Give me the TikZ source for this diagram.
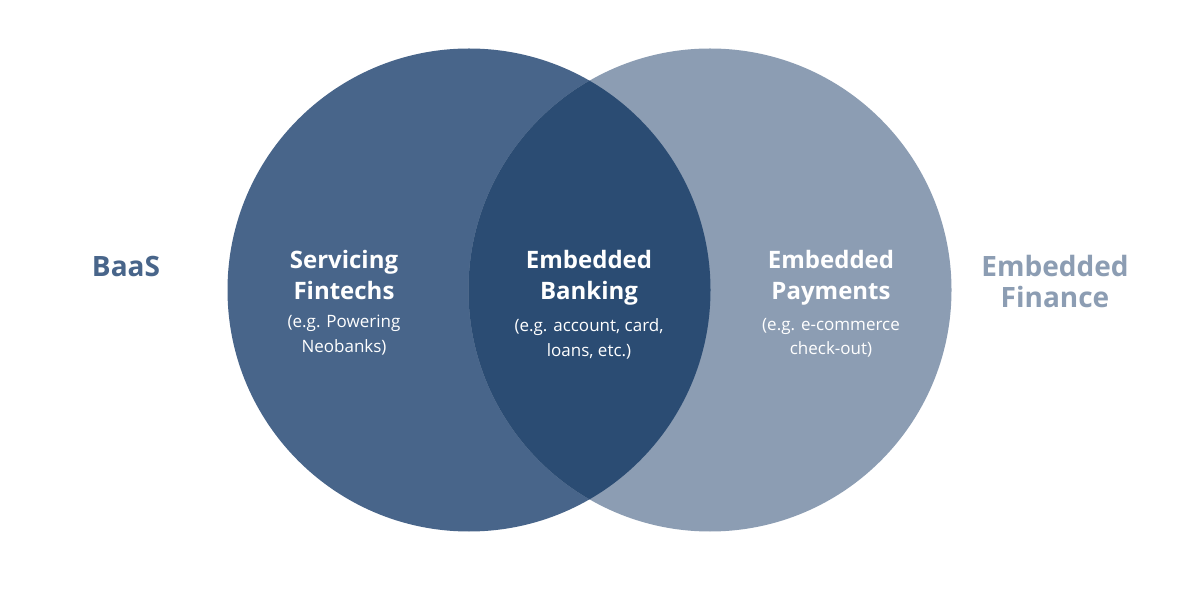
\documentclass[tikz,border=0pt]{standalone}
\usepackage{fontspec}
\setmainfont{Open Sans}
\definecolor{leftc}{HTML}{48658A}
\definecolor{rightc}{HTML}{8C9DB3}
\definecolor{midc}{HTML}{2B4C73}
\tikzset{
  venn/.style={circle, minimum size=483pt, inner sep=0pt, draw=none},
  head/.style={text=white, align=center, font=\fontsize{24}{31.5}\selectfont\bfseries},
  sub/.style={text=white, align=center, font=\fontsize{17}{24.5}\selectfont},
  outer/.style={align=center, font=\fontsize{28}{31}\selectfont\bfseries}
}
\begin{document}
\begin{tikzpicture}[x=1pt,y=-1pt]
\useasboundingbox (0,0) rectangle (1200,609);
\fill[white] (0,0) rectangle (1200,609);
\node[venn, fill=leftc] (L) at (469,290) {};
\node[venn, fill=rightc] (R) at (710,290) {};
\begin{scope}
  \clip (469,290) circle (241.5);
  \fill[midc] (710,290) circle (241.5);
\end{scope}
\node[head] (h1) at (344,275) {Servicing\\Fintechs};
\node[sub] (s1) at (344,335) {(e.g. Powering\\Neobanks)};
\node[head] (h2) at (589,278) {Embedded\\Banking};
\node[sub] (s2) at (589,339) {(e.g. account, card,\\loans, etc.)};
\node[head] (h3) at (831,278) {Embedded\\Payments};
\node[sub] (s3) at (831,338) {(e.g. e-commerce\\check-out)};
\node[outer, text=leftc] (baas) at (126,267) {BaaS};
\node[outer, text=rightc] (ef) at (1055,282) {Embedded\\Finance};
\end{tikzpicture}
\end{document}
